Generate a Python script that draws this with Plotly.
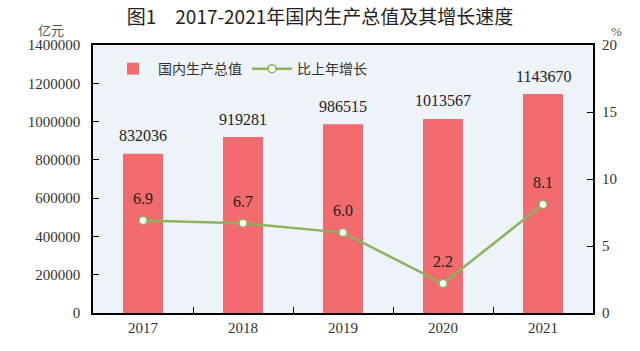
import plotly.graph_objects as go

years = ["2017", "2018", "2019", "2020", "2021"]
gdp = [832036, 919281, 986515, 1013567, 1143670]
growth = [6.9, 6.7, 6.0, 2.2, 8.1]
gdp_labels = ["832036", "919281", "986515", "1013567", "1143670"]
growth_labels = ["6.9", "6.7", "6.0", "2.2", "8.1"]

serif = "Liberation Serif, Noto Sans CJK SC, serif"
cjk = "Noto Sans CJK SC, sans-serif"

fig = go.Figure()
fig.add_trace(go.Bar(
    x=years, y=gdp, name="国内生产总值", width=0.4,
    marker=dict(color="#f26b6e", line=dict(width=0)),
    yaxis="y",
))
fig.add_trace(go.Scatter(
    x=years, y=growth, name="比上年增长", mode="lines+markers",
    line=dict(color="#8cb35c", width=2.5),
    marker=dict(size=8, color="white", line=dict(color="#8cb35c", width=1.5)),
    yaxis="y2",
))

annotations = []
for i, (v, t) in enumerate(zip(gdp, gdp_labels)):
    annotations.append(dict(x=i, y=v, xref="x", yref="y", text=t, showarrow=False,
                            yshift=18, font=dict(family=serif, size=16, color="#222")))
for i, (v, t) in enumerate(zip(growth, growth_labels)):
    annotations.append(dict(x=i, y=v, xref="x", yref="y2", text=t, showarrow=False,
                            yshift=22, font=dict(family=serif, size=16, color="#222")))
annotations.append(dict(x=1, y=1, xref="paper", yref="paper", text="%", showarrow=False,
                        xanchor="left", yanchor="bottom", xshift=16, yshift=4,
                        font=dict(family=serif, size=13, color="#555")))
annotations.append(dict(x=0, y=1, xref="paper", yref="paper", text="亿元", showarrow=False,
                        xanchor="right", yanchor="bottom", xshift=-27, yshift=4,
                        font=dict(family=cjk, size=13, color="#555")))

fig.update_layout(
    width=640, height=351,
    margin=dict(l=93, r=47, t=45, b=38),
    paper_bgcolor="white",
    plot_bgcolor="#edf3f9",
    title=dict(text="图1　2017-2021年国内生产总值及其增长速度", x=0.5, xanchor="center",
               y=0.95, yanchor="middle",
               font=dict(family=cjk, size=19, color="#222")),
    showlegend=True,
    legend=dict(orientation="h", x=0.03, y=0.97, xanchor="left", yanchor="top",
                bgcolor="rgba(0,0,0,0)", font=dict(family=cjk, size=14, color="#333"),
                itemwidth=40),
    xaxis=dict(type="category", range=[-0.5, 4.5], showline=True, linecolor="black",
               linewidth=1.5, mirror=True, ticks="inside", tickson="boundaries", ticklen=6,
               tickcolor="black", tickfont=dict(family=serif, size=15, color="#333"),
               showgrid=False, tickangle=0),
    yaxis=dict(range=[0, 1400000], dtick=200000, showline=True, linecolor="black",
               linewidth=1.5, mirror=True, ticks="inside", ticklen=6, tickcolor="black",
               tickfont=dict(family=serif, size=15, color="#333"), showgrid=False,
               zeroline=False, tickformat="d", ticklabelstandoff=8),
    yaxis2=dict(range=[0, 20], dtick=5, overlaying="y", side="right", ticks="inside",
                ticklen=6, tickcolor="black", showline=False, anchor="x",
                tickfont=dict(family=serif, size=15, color="#333"), showgrid=False,
                zeroline=False, ticklabelstandoff=8),
    annotations=annotations,
)

fig.write_html("out.html")
